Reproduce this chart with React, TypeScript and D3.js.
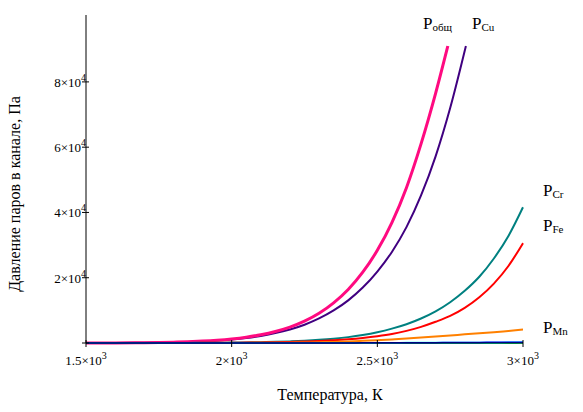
import * as d3 from "d3";

// temperature grid, K
const temps = [
  1500, 1600, 1700, 1800, 1850, 1900, 1950, 2000, 2050, 2100, 2150, 2200, 2250, 2300,
  2350, 2400, 2450, 2500, 2550, 2600, 2650, 2700, 2750, 2800, 2850, 2900, 2950, 3000,
];
// total pressure and Cu stop before 3000 K
const tempsTotal = [
  1500, 1600, 1700, 1800, 1850, 1900, 1950, 2000, 2050, 2100, 2150, 2200, 2250, 2300,
  2350, 2400, 2450, 2500, 2550, 2600, 2650, 2700, 2742,
];
const pTotal = [
  13, 38, 103, 252, 383, 575, 850, 1240, 1780, 2530, 3540, 4880, 6690, 9100,
  12300, 16400, 21700, 28400, 36900, 47600, 61000, 76500, 91000,
];
const tempsCu = [
  1500, 1600, 1700, 1800, 1850, 1900, 1950, 2000, 2050, 2100, 2150, 2200, 2250, 2300,
  2350, 2400, 2450, 2500, 2550, 2600, 2650, 2700, 2750, 2804,
];
const pCu = [
  12, 35, 93, 225, 340, 507, 745, 1080, 1540, 2175, 3020, 4140, 5610, 7520,
  9970, 13060, 16980, 21900, 27900, 35500, 45200, 57200, 72000, 91000,
];
const pCr = [
  1.5, 4, 10, 24, 36, 54, 80, 118, 170, 245, 350, 495, 690, 960,
  1320, 1800, 2450, 3300, 4400, 5750, 7500, 9700, 12500, 16000, 20300, 25900, 32800, 41600,
];
const pFe = [
  1, 3, 8, 19, 28, 41, 59, 85, 120, 169, 236, 327, 450, 616,
  838, 1135, 1530, 2050, 2730, 3720, 4950, 6500, 8300, 10750, 14000, 18200, 23600, 30600,
];
const pMn = [
  0, 0, 1, 3, 5, 8, 13, 20, 32, 50, 72, 100, 160, 230,
  340, 480, 680, 880, 1100, 1350, 1650, 2000, 2300, 2650, 2950, 3300, 3700, 4100,
];
const pBlue = [
  0, 0, 0, 0, 0, 0, 1, 2, 3, 5, 7, 10, 14, 19,
  25, 33, 42, 53, 66, 80, 97, 115, 135, 157, 180, 205, 232, 260,
];
const pCyan = [
  0, 0, 0, 0, 0, 0, 0, 1, 2, 3, 4, 5, 7, 10,
  13, 17, 21, 27, 33, 40, 48, 57, 67, 78, 90, 103, 117, 130,
];
const pGreen = [
  0, 0, 0, 0, 0, 0, 0, 0, 0, 1, 1, 2, 2, 3,
  4, 5, 6, 8, 10, 12, 14, 17, 20, 23, 27, 31, 35, 40,
];

const xTicks = [1500, 2000, 2500, 3000];
const xTickMant = ["1.5", "2", "2.5", "3"];
const yTicks = [0, 20000, 40000, 60000, 80000];
const yTickMant = ["", "2", "4", "6", "8"];

const FONT = "'Liberation Serif', 'Times New Roman', serif";

export default function App() {
  const W = 583;
  const H = 412;
  const x = d3.scaleLinear().domain([1500, 3000]).range([86, 523]);
  const y = d3.scaleLinear().domain([0, 100500]).range([343, 15]);

  const line = (ts: number[], vs: number[]) =>
    d3
      .line<number>()
      .x((_, i) => x(ts[i]))
      .y((d) => y(d))
      .curve(d3.curveMonotoneX)(vs) || "";

  const series = [
    { ts: tempsCu, vs: pCu, color: "#400080", w: 2 },
    { ts: tempsTotal, vs: pTotal, color: "#ff0a80", w: 3 },
    { ts: temps, vs: pCr, color: "#008080", w: 2 },
    { ts: temps, vs: pFe, color: "#ff0000", w: 2 },
    { ts: temps, vs: pMn, color: "#ff8000", w: 2 },
    { ts: temps, vs: pGreen, color: "#00ff00", w: 2 },
    { ts: temps, vs: pCyan, color: "#00ffff", w: 2 },
    { ts: temps, vs: pBlue, color: "#0000ff", w: 1.5 },
  ];

  const labels = [
    { sub: "общ", x: 423, y: 29 },
    { sub: "Cu", x: 472, y: 29 },
    { sub: "Cr", x: 543, y: 196 },
    { sub: "Fe", x: 543, y: 231 },
    { sub: "Mn", x: 543, y: 333 },
  ];

  return (
    <svg
      width={W}
      height={H}
      style={{ position: "absolute", left: 0, top: 0, background: "#fff" }}
      fontFamily={FONT}
    >
      {series.map((s, i) => (
        <path key={i} d={line(s.ts, s.vs)} fill="none" stroke={s.color} strokeWidth={s.w} />
      ))}

      {/* axes */}
      <line x1={86} x2={86} y1={15} y2={343} stroke="#000" strokeWidth={1} />
      <line x1={86} x2={523} y1={343} y2={343} stroke="#000" strokeWidth={1} />

      {yTicks.map((t, i) => (
        <g key={t}>
          <line x1={82} x2={89} y1={y(t)} y2={y(t)} stroke="#000" />
          {yTickMant[i] && (
            <text x={86} y={y(t) + 5} textAnchor="end" fontSize={13} fill="#000">
              <tspan>{yTickMant[i]}×10</tspan>
              <tspan dy={-6} fontSize={10}>4</tspan>
            </text>
          )}
        </g>
      ))}

      {xTicks.map((t, i) => (
        <g key={t}>
          <line x1={x(t)} x2={x(t)} y1={340} y2={347} stroke="#000" />
          <text x={x(t)} y={365} textAnchor="middle" fontSize={13} fill="#000">
            <tspan>{xTickMant[i]}×10</tspan>
            <tspan dy={-6} fontSize={10}>3</tspan>
          </text>
        </g>
      ))}

      <text x={330} y={400} textAnchor="middle" fontSize={16}>
        Температура, К
      </text>
      <text
        transform="translate(20,194) rotate(-90)"
        textAnchor="middle"
        fontSize={16}
      >
        Давление паров в канале, Па
      </text>

      {labels.map((l) => (
        <text key={l.sub} x={l.x} y={l.y} fontSize={17}>
          <tspan>P</tspan>
          <tspan dy={2} fontSize={11}>{l.sub}</tspan>
        </text>
      ))}
    </svg>
  );
}
